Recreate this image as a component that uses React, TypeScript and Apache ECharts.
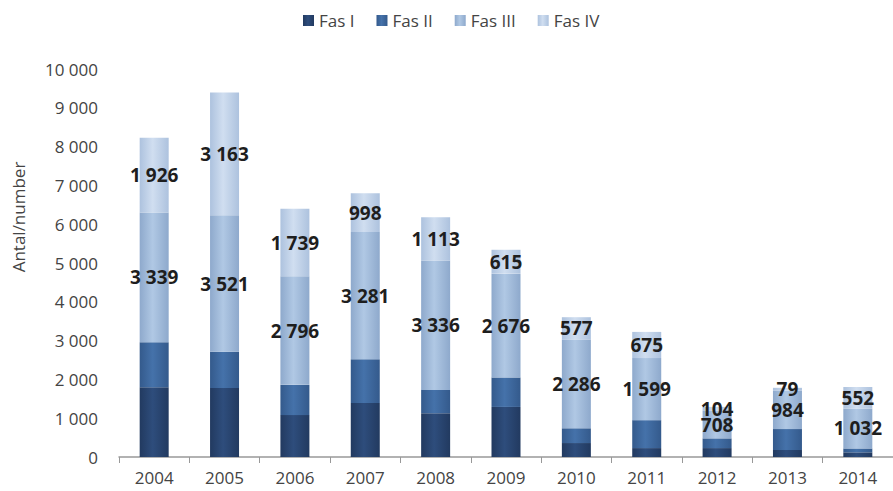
import React, { useEffect, useRef } from "react";
import * as echarts from "echarts";

const categories = ["2004", "2005", "2006", "2007", "2008", "2009", "2010", "2011", "2012", "2013", "2014"];
const fasI = [1800, 1780, 1080, 1390, 1130, 1290, 360, 230, 230, 180, 120];
const fasII = [1160, 930, 780, 1130, 600, 760, 380, 720, 250, 540, 100];
const fasIII = [3339, 3521, 2796, 3281, 3336, 2676, 2286, 1599, 708, 984, 1032];
const fasIV = [1926, 3163, 1739, 998, 1113, 615, 577, 675, 104, 79, 552];
const seriesNames = ["Fas I", "Fas II", "Fas III", "Fas IV"];
const yTicks = [0, 1000, 2000, 3000, 4000, 5000, 6000, 7000, 8000, 9000, 10000];

const fmt = (v: number) => String(v).replace(/\B(?=(\d{3})+(?!\d))/g, " ");

const grad = (edge: string, mid: string) =>
  new echarts.graphic.LinearGradient(0, 0, 1, 0, [
    { offset: 0, color: edge },
    { offset: 0.45, color: mid },
    { offset: 1, color: edge },
  ]);

export default function App() {
  const ref = useRef<HTMLDivElement>(null);
  useEffect(() => {
    if (!ref.current) return;
    const chart = echarts.init(ref.current, undefined, { renderer: "svg" });
    const colors = [
      ["#223a60", "#2e4d7c"],
      ["#345a8c", "#4572aa"],
      ["#8ea9cc", "#b0c8e4"],
      ["#adc2de", "#d0def0"],
    ];
    const datas = [fasI, fasII, fasIII, fasIV];
    const label = {
      show: true,
      position: "inside",
      formatter: (p: any) => fmt(p.value),
      color: "#1e1e1e",
      fontWeight: "bold",
      fontSize: 19,
      fontFamily: "Open Sans",
    };
    const thin = { color: "#444", fontSize: 17, fontFamily: "Open Sans", fontWeight: "normal" };
    chart.setOption({
      animation: false,
      legend: {
        top: 7,
        left: 298,
        itemWidth: 11,
        itemHeight: 11,
        itemGap: 22,
        icon: "rect",
        textStyle: { ...thin, fontSize: 17 },
        data: seriesNames,
      },
      grid: { left: 119, right: 0, top: 69, bottom: 34, containLabel: false },
      xAxis: {
        type: "category",
        data: categories,
        axisLine: { lineStyle: { color: "#999", width: 1.5 } },
        axisTick: { show: true, length: 6, lineStyle: { color: "#999" } },
        axisLabel: { ...thin, margin: 12 },
      },
      yAxis: {
        type: "value",
        min: 0,
        max: 10000,
        interval: 1000,
        splitLine: { show: false },
        axisLine: { show: false },
        axisTick: { show: false },
        axisLabel: {
          ...thin,
          margin: 21,
          formatter: (v: number) => (yTicks.includes(v) ? fmt(v) : ""),
        },
      },
      graphic: [
        {
          type: "text",
          x: 18,
          y: 217,
          rotation: Math.PI / 2,
          style: {
            text: "Antal/number",
            fill: "#444",
            fontSize: 17,
            fontFamily: "Open Sans",
            align: "center",
            verticalAlign: "middle",
          },
        },
      ],
      series: seriesNames.map((name, i) => ({
        name,
        type: "bar",
        stack: "total",
        barWidth: 29,
        data: datas[i],
        itemStyle: { color: grad(colors[i][0], colors[i][1]) },
        label: i >= 2 ? label : { show: false },
        labelLayout: { hideOverlap: false },
      })),
    });
    return () => chart.dispose();
  }, []);
  return <div ref={ref} style={{ width: 893, height: 491, position: "absolute", left: 0, top: 0 }} />;
}
